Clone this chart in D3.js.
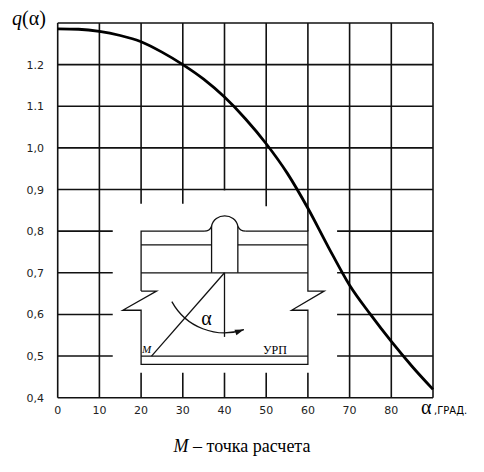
<!DOCTYPE html><html><head><meta charset="utf-8"><script src="https://cdn.jsdelivr.net/npm/d3@7"></script>
<style>body{margin:0;background:#fff}</style></head><body><svg width="484" height="472"></svg><script>
const alphaDeg=[0,5,10,15,20,25,30,35,40,45,50,55,60,65,70,75,80,85,90];
const qVals=[1.286,1.285,1.28,1.27,1.255,1.23,1.2,1.165,1.122,1.07,1.01,0.94,0.855,0.76,0.67,0.6,0.535,0.475,0.42];
const xTicks=[0,10,20,30,40,50,60,70,80];
const yTicks=[0.4,0.5,0.6,0.7,0.8,0.9,1.0,1.1,1.2];
const yLabels=["0,4","0,5","0,6","0,7","0,8","0,9","1,0","1.1","1.2"];
const svg=d3.select("svg");
const x=d3.scaleLinear().domain([0,90]).range([57.7,433]);
const y=d3.scaleLinear().domain([0.4,1.3]).range([397.7,23]);
const g=svg.append("g").attr("stroke","#111").attr("stroke-width",1.6).attr("fill","none");
const seg=(x1,y1,x2,y2)=>g.append("line").attr("x1",x(x1)).attr("y1",y(y1)).attr("x2",x(x2)).attr("y2",y(y2));
[0.9,1.0,1.1,1.2,1.3].forEach(v=>seg(0,v,90,v));
seg(0,0.4,90,0.4);
[0.5,0.6,0.7,0.8].forEach(v=>{seg(0,v,13.2,v);seg(67,v,90,v);});
[0,10,70,80].forEach(v=>seg(v,0.4,v,1.3));
seg(90,0.4,90,1.3);
const gapTop={20:0.866,30:0.866,40:0.898,50:0.86};
[20,30,40,50].forEach(v=>{seg(v,0.4,v,0.46);seg(v,gapTop[v],v,1.3);});
seg(60,0.8,60,1.3);seg(60,0.4,60,0.46);
const line=d3.line().x(d=>x(d[0])).y(d=>y(d[1]));
const P=(pts)=>g.append("path").attr("d",line(pts)).attr("stroke-width",1.3);
P([[20,0.656],[20,0.8],[35.1,0.8]]);
P([[45.1,0.8],[60,0.8],[60,0.656],[63.9,0.656],[56.1,0.61],[60,0.61],[60,0.48],[20,0.48],[20,0.61],[15.6,0.61],[23.7,0.656],[20,0.656]]);
g.append("path").attr("stroke-width",1.3).attr("d",
 `M${x(35.1)},${y(0.8)} Q${x(36.5)},${y(0.8)} ${x(36.9)},${y(0.812)} C${x(37.5)},${y(0.845)} ${x(42.6)},${y(0.845)} ${x(43.2)},${y(0.812)} Q${x(43.7)},${y(0.8)} ${x(45.1)},${y(0.8)}`);
P([[20,0.767],[36.9,0.767]]);P([[43.2,0.767],[60,0.767]]);
P([[20,0.7],[60,0.7]]);P([[20,0.5],[60,0.5]]);
P([[36.9,0.7],[36.9,0.812]]);P([[43.2,0.7],[43.2,0.812]]);
P([[40,0.7],[22.5,0.5]]);P([[40,0.7],[40,0.546]]);
// arc centered at apex
const cx=x(40),cy=y(0.7),r=60;
const a0=Math.PI-0.5, a1=Math.PI/2-0.33; // angles measured from +x, y downward
const sx=cx+r*Math.cos(a0), sy=cy+r*Math.sin(a0), ex=cx+r*Math.cos(a1), ey=cy+r*Math.sin(a1);
g.append("path").attr("stroke-width",1.3).attr("d",`M${sx},${sy} A${r},${r} 0 0 0 ${ex},${ey}`);
const tang=a1-Math.PI/2; // direction of motion (counterclockwise in screen)
const ang=Math.atan2(-Math.cos(a1),Math.sin(a1))*180/Math.PI;
svg.append("path").attr("fill","#111").attr("d","M0,0 L-9,-3 L-9,3 Z").attr("transform",`translate(${ex},${ey}) rotate(${Math.atan2(-r*Math.cos(a1),r*Math.sin(a1))*180/Math.PI})`);
svg.append("path").datum(alphaDeg.map((a,i)=>[a,qVals[i]])).attr("fill","none").attr("stroke","#000").attr("stroke-width",2.8)
 .attr("d",d3.line().x(d=>x(d[0])).y(d=>y(d[1])).curve(d3.curveMonotoneX));
const T=svg.append("g").attr("font-family","DejaVu Sans").attr("font-size",11).attr("fill","#222");
yTicks.forEach((v,i)=>T.append("text").attr("x",44).attr("y",y(v)+4).attr("text-anchor","end").text(yLabels[i]));
xTicks.forEach(v=>T.append("text").attr("x",x(v)).attr("y",414).attr("text-anchor","middle").text(v));
svg.append("text").attr("x",421).attr("y",414).attr("font-family","Liberation Serif").attr("font-size",20).text("α");
svg.append("text").attr("x",434).attr("y",414).attr("font-family","DejaVu Sans").attr("font-size",10).text(",ГРАД.");
const q=svg.append("text").attr("x",12).attr("y",25).attr("font-family","Liberation Serif").attr("font-size",20);
q.append("tspan").attr("font-style","italic").text("q");q.append("tspan").text("(α)");
svg.append("text").attr("x",x(35.7)).attr("y",y(0.59)+6).attr("text-anchor","middle").attr("font-family","Liberation Serif").attr("font-size",20).text("α");
svg.append("text").attr("x",142).attr("y",353).attr("font-family","Liberation Serif").attr("font-style","italic").attr("font-size",11).text("M");
svg.append("text").attr("x",263).attr("y",354).attr("font-family","Liberation Serif").attr("font-size",12).text("УРП");
const c=svg.append("text").attr("x",242).attr("y",452).attr("text-anchor","middle").attr("font-family","Liberation Serif").attr("font-size",18);
c.append("tspan").attr("font-style","italic").text("M");c.append("tspan").text(" – точка расчета");
</script></body></html>
